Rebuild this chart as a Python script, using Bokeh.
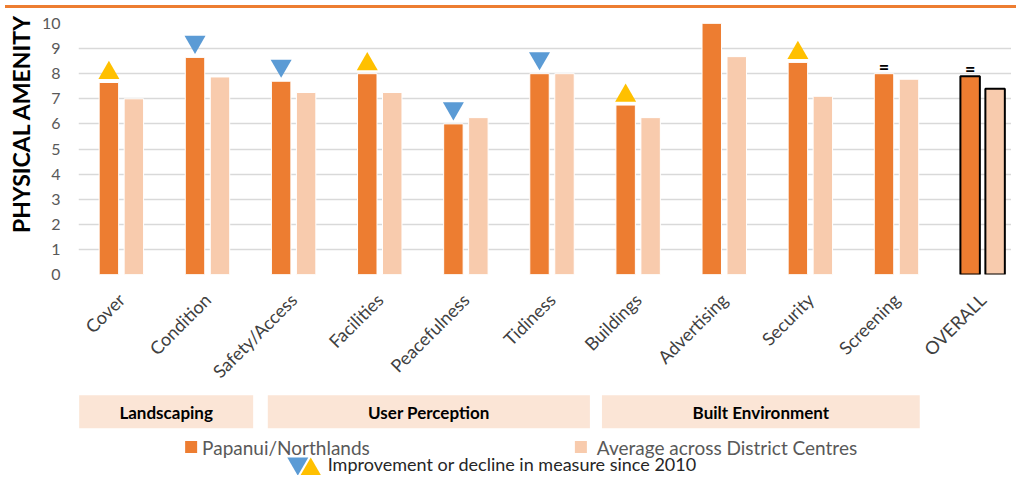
import math
from bokeh.plotting import figure
from bokeh.layouts import column
from bokeh.models import Range1d, FixedTicker, ColumnDataSource, Div, Title
from bokeh.core.properties import value
from bokeh.embed import file_html
from bokeh.resources import INLINE

# ---------------- data ----------------
categories = ["Cover", "Condition", "Safety/Access", "Facilities", "Peacefulness",
              "Tidiness", "Buildings", "Advertising", "Security", "Screening", "OVERALL"]
papanui = [7.65, 8.65, 7.7, 8.0, 6.0, 8.0, 6.75, 10.0, 8.45, 8.0, 7.9]
district_avg = [7.0, 7.87, 7.25, 7.25, 6.25, 8.0, 6.25, 8.68, 7.1, 7.78, 7.4]
change_since_2010 = ["up", "down", "down", "up", "down", "down", "up", "", "up", "=", "="]
group_names = ["Landscaping", "User Perception", "Built Environment"]
group_first = [0, 2, 6]
group_last = [1, 5, 9]
series_names = ["Papanui/Northlands", "Average across District Centres"]
marker_note = "Improvement or decline in measure since 2010"
y_tick_values = list(range(0, 11))
y_title = "PHYSICAL AMENITY"

# ---------------- layout / style ----------------
FONT = "Lato"
W = 1011
TOP_BAR_H = 3
H_MAIN = 379
H_LEG = 83
FRAME_LEFT = 75
FRAME_TOP = 10
FRAME_H = 253
FRAME_W = W - FRAME_LEFT
X_START = -0.498
PX_PER_X = 86.4
X_END = X_START + FRAME_W / PX_PER_X
PX_PER_Y = FRAME_H / 10.0
BAR_W = 0.226
BAR_OFF = 0.145
TRI = 21
TRI_H = TRI / 2 * math.sqrt(3)
GAP = 3.5
group_pad_left = [0.49, 0.30, 0.42]
group_pad_right = [0.53, 0.44, 0.27]

ORANGE = "#ED7D31"
PEACH = "#F8CBAD"
GOLD = "#FFC000"
BLUE = "#5B9BD5"
BOX = "#FBE5D6"
GRID = "#D9D9D9"

n = len(categories)
xs = list(range(n))

# ---------------- main chart ----------------
p = figure(width=W, height=H_MAIN, x_range=Range1d(X_START, X_END), y_range=Range1d(0, 10),
           output_backend="svg", toolbar_location=None,
           min_border_left=FRAME_LEFT, min_border_right=0, min_border_top=FRAME_TOP,
           min_border_bottom=H_MAIN - FRAME_TOP - FRAME_H, outline_line_color=None)

src = ColumnDataSource(dict(
    x1=[i - BAR_OFF for i in xs],
    x2=[i + BAR_OFF for i in xs],
    a=papanui,
    b=district_avg,
    lc=["black" if c == "OVERALL" else "white" for c in categories],
    lw=[2 if c == "OVERALL" else 1 for c in categories],
))
p.vbar(x="x1", top="a", bottom=0, width=BAR_W, fill_color=ORANGE, line_color="lc", line_width="lw", source=src)
p.vbar(x="x2", top="b", bottom=0, width=BAR_W, fill_color=PEACH, line_color="lc", line_width="lw", source=src)

up = [i for i, c in enumerate(change_since_2010) if c == "up"]
down = [i for i, c in enumerate(change_since_2010) if c == "down"]
same = [i for i, c in enumerate(change_since_2010) if c == "="]

p.scatter(x=[i - BAR_OFF for i in up], y=[papanui[i] + (GAP + TRI_H / 3) / PX_PER_Y for i in up],
          marker="triangle", size=TRI, fill_color=GOLD, line_color=None)
p.scatter(x=[i - BAR_OFF for i in down], y=[papanui[i] + (GAP + 2 * TRI_H / 3) / PX_PER_Y for i in down],
          marker="inverted_triangle", size=TRI, fill_color=BLUE, line_color=None)
p.text(x=[i - BAR_OFF for i in same], y=[papanui[i] for i in same], text=["="] * len(same),
       y_offset=-7, text_align="center", text_baseline="middle",
       text_font=value(FONT), text_font_style="bold", text_font_size="18px", text_color="black")

p.xaxis.ticker = FixedTicker(ticks=xs)
p.xaxis.major_label_overrides = {i: c for i, c in enumerate(categories)}
p.xaxis.major_label_orientation = math.pi / 4
p.xaxis.axis_line_color = None
p.xaxis.major_tick_line_color = None
p.xaxis.minor_tick_line_color = None
p.xaxis.major_tick_out = 0
p.xaxis.major_tick_in = 0
p.xaxis.major_label_text_font = FONT
p.xaxis.major_label_text_font_size = "18px"
p.xaxis.major_label_text_color = "#404040"
p.xaxis.major_label_standoff = 22

p.yaxis.ticker = FixedTicker(ticks=y_tick_values)
p.yaxis.axis_line_color = None
p.yaxis.major_tick_line_color = None
p.yaxis.minor_tick_line_color = None
p.yaxis.major_tick_out = 0
p.yaxis.major_tick_in = 0
p.yaxis.major_label_text_font = FONT
p.yaxis.major_label_text_font_size = "16px"
p.yaxis.major_label_text_color = "#595959"
p.yaxis.major_label_standoff = 18

p.add_layout(Title(text=y_title, align="right", offset=-9, standoff=8,
                   text_font=FONT, text_font_style="bold", text_font_size="23px",
                   text_color="black"), "left")

p.xgrid.visible = False
p.ygrid.grid_line_color = GRID
p.ygrid.grid_line_width = 1.5

# ---------------- groups + legend ----------------
LEG_TOP_PAGE = 8 + TOP_BAR_H + H_MAIN
FRAME_LEFT_PAGE = 8 + FRAME_LEFT


def px2x(page_x):
    return X_START + (page_x - FRAME_LEFT_PAGE) / PX_PER_X


def py(page_y):
    return page_y - LEG_TOP_PAGE


p2 = figure(width=W, height=H_LEG, x_range=p.x_range,
            y_range=Range1d(H_LEG, 0), output_backend="svg", toolbar_location=None,
            min_border_left=FRAME_LEFT, min_border_right=0, min_border_top=0, min_border_bottom=0,
            outline_line_color=None, x_axis_type=None, y_axis_type=None)
p2.grid.visible = False

gl = [f - pl for f, pl in zip(group_first, group_pad_left)]
gr = [l + pr for l, pr in zip(group_last, group_pad_right)]
p2.quad(left=gl, right=gr, top=py(392.7), bottom=py(425.7), fill_color=BOX, line_color=None)
p2.text(x=[(a + b) / 2 for a, b in zip(gl, gr)], y=py(409.5), text=group_names,
        text_align="center", text_baseline="middle", text_font=value(FONT),
        text_font_style="bold", text_font_size="17px", text_color="black")

p2.scatter(x=[px2x(196), px2x(587)], y=py(444.5), marker="square", size=12,
           fill_color=[ORANGE, PEACH], line_color=None)
p2.text(x=[px2x(207), px2x(603)], y=py(445), text=series_names, text_align="left",
        text_baseline="middle", text_font=value(FONT), text_font_size="19px", text_color="#595959")

p2.scatter(x=[px2x(303)], y=[py(455) + TRI_H / 3], marker="inverted_triangle", size=TRI,
           fill_color=BLUE, line_color=None)
p2.scatter(x=[px2x(316)], y=[py(455) + 2 * TRI_H / 3], marker="triangle", size=TRI,
           fill_color=GOLD, line_color=None)
p2.text(x=[px2x(333)], y=[py(461)], text=[marker_note], text_align="left", text_baseline="middle",
        text_font=value(FONT), text_font_size="18px", text_color="#262626")

top_bar = Div(width=W, height=TOP_BAR_H, styles={"background-color": ORANGE})

layout = column(top_bar, p, p2, spacing=0)
open("out.html", "w").write(file_html(layout, INLINE))
